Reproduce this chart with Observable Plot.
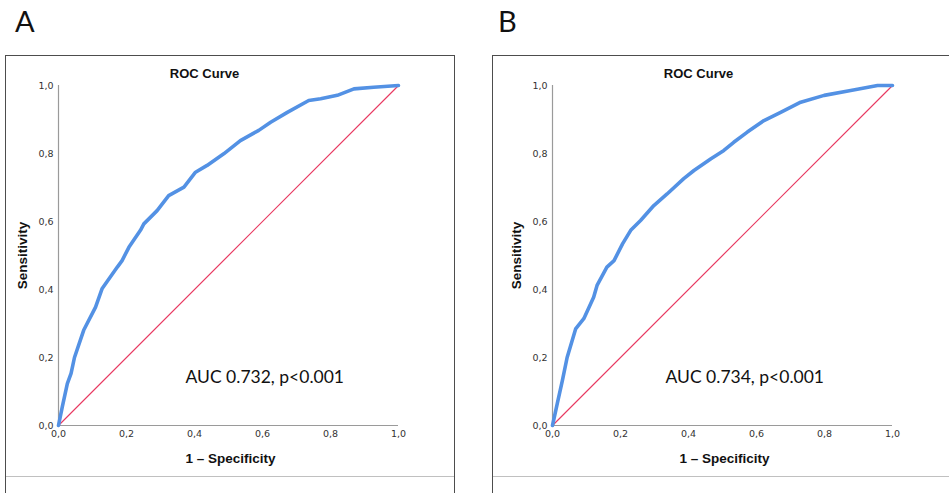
<!DOCTYPE html>
<html><head><meta charset="utf-8">
<script src="https://cdn.jsdelivr.net/npm/d3@7"></script>
<script src="https://cdn.jsdelivr.net/npm/@observablehq/plot@0.6"></script>
<style>
body{margin:0;width:949px;height:493px;overflow:hidden;background:#fff;position:relative;}
.box{position:absolute;top:55px;height:470px;border:1.5px solid #4d4d4d;box-sizing:border-box;}
.sep{position:absolute;top:476px;height:1px;background:#c0c0c0;}
.letter{position:absolute;top:4px;font:29px Lato,"Open Sans",sans-serif;line-height:1.2;color:#111;}
.plot{position:absolute;top:55px;}
</style></head><body>
<script>
const panelLabels = ["A", "B"];
const chartTitle = "ROC Curve";
const xLabel = "1 – Specificity";
const yLabel = "Sensitivity";
const aucLabels = ["AUC 0.732, p<0.001", "AUC 0.734, p<0.001"];
const ticks = [0, 0.2, 0.4, 0.6, 0.8, 1];
const tickLabels = ["0,0", "0,2", "0,4", "0,6", "0,8", "1,0"];
const chance = [0, 1];

const fprA = [0, 0.011, 0.026, 0.037, 0.047, 0.074, 0.109, 0.128, 0.173, 0.187, 0.207, 0.241, 0.251, 0.290, 0.324, 0.369, 0.403, 0.437, 0.486, 0.535, 0.589, 0.624, 0.673, 0.736, 0.771, 0.820, 0.869, 0.927, 1];
const tprA = [0, 0.054, 0.123, 0.153, 0.200, 0.280, 0.348, 0.402, 0.466, 0.485, 0.524, 0.574, 0.593, 0.632, 0.676, 0.701, 0.745, 0.765, 0.799, 0.838, 0.868, 0.892, 0.921, 0.956, 0.961, 0.971, 0.990, 0.995, 1];

const fprB = [0, 0.014, 0.029, 0.043, 0.068, 0.092, 0.121, 0.131, 0.160, 0.181, 0.206, 0.230, 0.259, 0.298, 0.337, 0.386, 0.416, 0.465, 0.504, 0.533, 0.573, 0.622, 0.671, 0.730, 0.799, 0.877, 0.956, 1];
const tprB = [0, 0.064, 0.132, 0.200, 0.284, 0.314, 0.377, 0.412, 0.466, 0.485, 0.534, 0.574, 0.603, 0.647, 0.681, 0.726, 0.750, 0.784, 0.809, 0.833, 0.863, 0.897, 0.921, 0.951, 0.971, 0.985, 1.000, 1];

const panels = [
  {label: panelLabels[0], fpr: fprA, tpr: tprA, auc: aucLabels[0], boxLeft: 5, boxWidth: 450, svgLeft: 5, letterLeft: 15, aucDx: 127},
  {label: panelLabels[1], fpr: fprB, tpr: tprB, auc: aucLabels[1], boxLeft: 492, boxWidth: 480, svgLeft: 499, letterLeft: 498, aucDx: 113}
];

function makePlot(p) {
  const pts = p.fpr.map((f, i) => ({fpr: f, tpr: p.tpr[i]}));
  const diag = chance.map(v => ({fpr: v, tpr: v}));
  const tf = d => tickLabels[ticks.findIndex(t => Math.abs(t - d) < 1e-9)];
  const bold = {fontFamily: "Liberation Sans, Arial, sans-serif", fontWeight: "bold", fill: "#111"};
  return Plot.plot({
    width: 449, height: 438,
    marginLeft: 53, marginRight: 56, marginTop: 30, marginBottom: 68,
    style: {fontFamily: "DejaVu Sans, sans-serif", fontSize: "9.5px", color: "#333", background: "transparent", overflow: "visible"},
    x: {domain: [0, 1]},
    y: {domain: [0, 1]},
    marks: [
      Plot.axisX(ticks, {tickSize: 0, tickPadding: 5, tickFormat: tf, label: null}),
      Plot.axisY(ticks, {tickSize: 0, tickPadding: 5, tickFormat: tf, label: null}),
      Plot.ruleX([0], {stroke: "#9a9a9a", strokeWidth: 1.2}),
      Plot.ruleY([0], {stroke: "#9a9a9a", strokeWidth: 1.2}),
      Plot.line(diag, {x: "fpr", y: "tpr", stroke: "rgb(232,58,98)", strokeWidth: 1.2}),
      Plot.line(pts, {x: "fpr", y: "tpr", stroke: "#5391e4", strokeWidth: 3.6, strokeLinejoin: "round", strokeLinecap: "round"}),
      Plot.text([chartTitle], {frameAnchor: "top", dx: -24, dy: -11.5, lineAnchor: "middle", fontSize: 13, ...bold}),
      Plot.text([xLabel], {frameAnchor: "bottom", dx: 2, dy: 33.5, lineAnchor: "middle", fontSize: 13.5, ...bold}),
      Plot.text([yLabel], {frameAnchor: "left", rotate: -90, dx: -36, textAnchor: "middle", lineAnchor: "middle", fontSize: 13.5, ...bold}),
      Plot.text([p.auc], {frameAnchor: "bottom-left", dx: p.aucDx, dy: -48, textAnchor: "start", lineAnchor: "middle", fontSize: 17.5, fontFamily: "Lato, Open Sans, sans-serif", fill: "#111"})
    ]
  });
}

for (const p of panels) {
  const box = document.createElement("div");
  box.className = "box";
  box.style.left = p.boxLeft + "px";
  box.style.width = p.boxWidth + "px";
  document.body.appendChild(box);
  const sep = document.createElement("div");
  sep.className = "sep";
  sep.style.left = (p.boxLeft + 1) + "px";
  sep.style.width = (p.boxWidth - 2) + "px";
  document.body.appendChild(sep);
  const letter = document.createElement("div");
  letter.className = "letter";
  letter.style.left = p.letterLeft + "px";
  letter.textContent = p.label;
  document.body.appendChild(letter);
  const wrap = document.createElement("div");
  wrap.className = "plot";
  wrap.style.left = p.svgLeft + "px";
  wrap.appendChild(makePlot(p));
  document.body.appendChild(wrap);
}
</script>
</body></html>
